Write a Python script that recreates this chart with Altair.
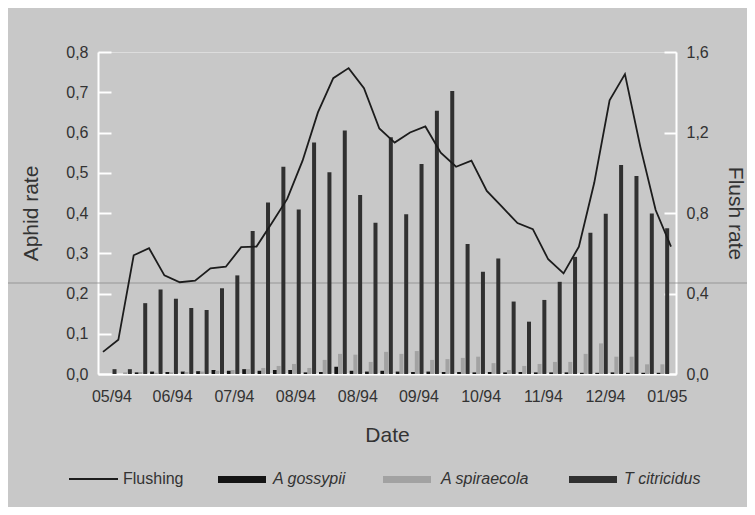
import altair as alt
import pandas as pd

# ---------------- data ----------------
# Flush rate (right axis), one value per sampling date (38 dates)
flush = [0.11, 0.17, 0.59, 0.625, 0.49, 0.456, 0.464, 0.525, 0.533, 0.63,
         0.633, 0.75, 0.87, 1.06, 1.30, 1.47, 1.52, 1.42, 1.22, 1.15,
         1.20, 1.23, 1.10, 1.03, 1.06, 0.91, 0.83, 0.75, 0.72, 0.57,
         0.50, 0.633, 0.95, 1.36, 1.49, 1.13, 0.815, 0.633]

# Aphid rates (left axis), dates 2..38
t_citricidus = [0.012, 0.012, 0.176, 0.210, 0.187, 0.164, 0.159, 0.213, 0.245, 0.355,
                0.426, 0.515, 0.409, 0.575, 0.501, 0.605, 0.445, 0.376, 0.588, 0.397,
                0.522, 0.654, 0.703, 0.323, 0.254, 0.287, 0.180, 0.130, 0.184, 0.229,
                0.291, 0.351, 0.398, 0.519, 0.492, 0.399, 0.362]
a_spiraecola = [0.0, 0.004, 0.005, 0.003, 0.004, 0.005, 0.006, 0.008, 0.010, 0.012,
                0.015, 0.020, 0.025, 0.015, 0.035, 0.050, 0.048, 0.030, 0.055, 0.050,
                0.057, 0.035, 0.037, 0.040, 0.043, 0.027, 0.010, 0.020, 0.025, 0.030,
                0.030, 0.050, 0.076, 0.043, 0.043, 0.024, 0.024]
a_gossypii = [0.0, 0.0, 0.004, 0.006, 0.005, 0.006, 0.007, 0.010, 0.008, 0.012,
              0.008, 0.010, 0.010, 0.004, 0.005, 0.018, 0.008, 0.006, 0.008, 0.006,
              0.005, 0.006, 0.005, 0.005, 0.004, 0.005, 0.004, 0.005, 0.004, 0.004,
              0.004, 0.003, 0.003, 0.004, 0.003, 0.003, 0.003]

series_names = ["A gossypii", "A spiraecola", "T citricidus"]
series_colors = ["#141414", "#a2a2a2", "#303030"]
series_offsets = {"A gossypii": -0.80, "A spiraecola": -0.56, "T citricidus": -0.25}

date_tick_pos = [0.55, 4.5, 8.53, 12.53, 16.57, 20.55, 24.6, 28.66, 32.7, 36.73]
date_tick_labels = ["05/94", "06/94", "07/94", "08/94", "08/94", "09/94",
                    "10/94", "11/94", "12/94", "01/95"]
aphid_ticks = [0.0, 0.1, 0.2, 0.3, 0.4, 0.5, 0.6, 0.7, 0.8]
flush_ticks = [0.0, 0.4, 0.8, 1.2, 1.6]

# ---------------- tables ----------------
line_df = pd.DataFrame({"idx": list(range(len(flush))), "flush": flush})
rows = []
for name, vals in zip(series_names, [a_gossypii, a_spiraecola, t_citricidus]):
    for k, v in enumerate(vals):
        rows.append({"series": name, "pos": k + 1 + series_offsets[name], "value": v})
bar_df = pd.DataFrame(rows)

W, H = 578, 322
FONT = "Liberation Sans"
TXT = "#333333"
LBL = 16
TTL = 21

x_scale = alt.Scale(domain=[0, 37], nice=False, zero=False)
pos_str = ",".join(str(p) for p in date_tick_pos)
lab_str = ",".join("'" + l + "'" for l in date_tick_labels)
x_axis = alt.Axis(values=date_tick_pos,
                  labelExpr="[" + lab_str + "][indexof([" + pos_str + "], datum.value)]",
                  ticks=False, grid=False, domainColor="white", domainWidth=2,
                  labelPadding=14, labelFontSize=LBL, labelColor=TXT, labelFlush=False,
                  labelOverlap=False, title="Date", titleFontSize=TTL, titleFontWeight="normal",
                  titleColor=TXT, titlePadding=20)

# inward ticks are drawn as the first few pixels of dashed grid lines
left_scale = alt.Scale(domain=[0, 0.8], nice=False)
left_axis = alt.Axis(values=aphid_ticks, format=".1f",
                     labelExpr="replace(datum.label, '.', ',')",
                     ticks=False, grid=True, gridColor="white", gridWidth=2,
                     gridOpacity=1, gridDash=[13, 2000],
                     domainColor="white", domainWidth=2,
                     labelPadding=10, labelFontSize=LBL, labelColor=TXT,
                     title="Aphid rate", titleFontSize=TTL, titleFontWeight="normal",
                     titleColor=TXT, titlePadding=24)
right_scale = alt.Scale(domain=[0, 1.6], nice=False)
right_axis = alt.Axis(values=flush_ticks, format=".1f", orient="right",
                      labelExpr="replace(datum.label, '.', ',')",
                      ticks=False, grid=True, gridColor="white", gridWidth=2,
                      gridOpacity=1, gridDash=[12, 2000],
                      domainColor="white", domainWidth=2,
                      labelPadding=10, labelFontSize=LBL, labelColor=TXT,
                      title="Flush rate", titleFontSize=TTL, titleFontWeight="normal",
                      titleColor=TXT, titlePadding=16)

bars = alt.Chart(bar_df).mark_bar(size=4).encode(
    x=alt.X("pos:Q", scale=x_scale, axis=x_axis),
    y=alt.Y("value:Q", scale=left_scale, axis=left_axis),
    color=alt.Color("series:N", scale=alt.Scale(domain=series_names, range=series_colors),
                    legend=None),
)
line = alt.Chart(line_df).mark_line(color="#1c1c1c", strokeWidth=1.8).encode(
    x=alt.X("idx:Q", scale=x_scale, axis=x_axis),
    y=alt.Y("flush:Q", scale=right_scale, axis=right_axis),
)

one = pd.DataFrame({"t": ["Flushing"]})
# scan fold line across the page
fold = alt.Chart(one).mark_rule(color="#8a8a8a", strokeWidth=1, opacity=0.8).encode(
    x=alt.value(-98), x2=alt.value(660), y=alt.value(231))

LY = 427
LEG = 16
legend_layers = [
    alt.Chart(one).mark_rule(color="#1c1c1c", strokeWidth=1.8).encode(
        x=alt.value(-29), x2=alt.value(20), y=alt.value(LY)),
    alt.Chart(pd.DataFrame({"t": ["Flushing"]})).mark_text(
        align="left", baseline="middle", fontSize=LEG, font=FONT, color=TXT).encode(
        x=alt.value(25), y=alt.value(LY), text="t:N"),
]
sw_x = [(120, 168, 175), (285, 333, 343), (471, 519, 526)]
for (x0, x1, tx), name, col in zip(sw_x, series_names, series_colors):
    legend_layers.append(alt.Chart(one).mark_rect(color=col).encode(
        x=alt.value(x0), x2=alt.value(x1), y=alt.value(LY - 3), y2=alt.value(LY + 4)))
    legend_layers.append(alt.Chart(pd.DataFrame({"t": [name]})).mark_text(
        align="left", baseline="middle", fontSize=LEG, font=FONT, color=TXT,
        fontStyle="italic").encode(x=alt.value(tx), y=alt.value(LY), text="t:N"))

chart = alt.layer(fold, bars, line, *legend_layers).resolve_scale(
    y="independent").properties(
    width=W, height=H,
    autosize=alt.AutoSizeParams(type="none"),
    padding={"left": 90, "top": 44, "right": 71, "bottom": 133},
    background="#c8c8c8",
).configure_view(stroke=None).configure(font=FONT)

chart.save("out.html", embed_options={"renderer": "svg", "actions": False})
